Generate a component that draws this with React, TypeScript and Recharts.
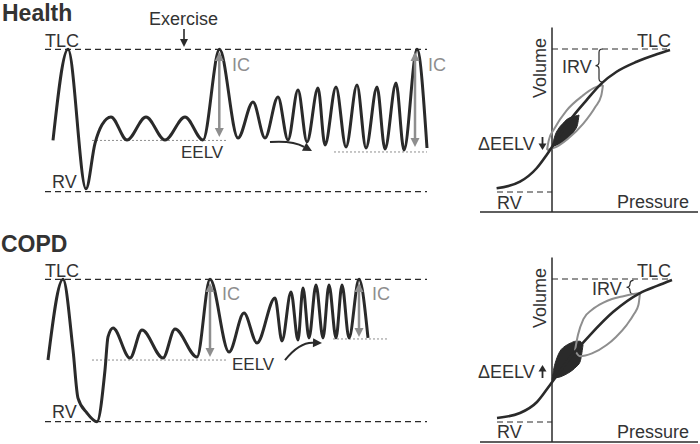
import React from "react";
import { ComposedChart, Line, Area, XAxis, YAxis, ReferenceLine } from "recharts";

// Volume is % of the RV..TLC range (RV = 0, TLC = 100); time in s, pressure in cmH2O.

// Health: volume-time trace
const healthT = [0.8, 2.3, 4.1, 5.0, 5.7, 6.6, 8.2, 10.1, 12.0, 14.0, 15.8, 17.45, 19.3, 20.8, 22.0, 23.3, 24.3, 25.3, 26.2, 27.3, 28.0, 29.1, 30.1, 31.2, 32.1, 33.2, 34.0, 35.1, 35.9, 37.2, 38.2];
const healthV = [36, 100, 2, 34, 47, 52.5, 36.3, 52.5, 36.3, 52.5, 36.3, 100, 37.7, 63, 37.7, 66.5, 36.3, 71.4, 34.9, 72.8, 32.8, 73.5, 31.4, 74.9, 30.7, 73.5, 30, 76.3, 29.3, 100, 30.7];

// COPD: volume-time trace
const copdT = [0.3, 1.8, 2.8, 3.3, 4.2, 5.2, 6.0, 6.3, 6.8, 8.5, 9.7, 11.8, 13.0, 15.2, 16.5, 18.4, 19.9, 21.2, 23.0, 23.7, 24.6, 25.3, 25.8, 26.4, 27.1, 27.8, 28.4, 29.1, 29.7, 30.4, 31.4, 32.3];
const copdV = [43.3, 100, 50.4, 16.6, 6.1, 0, 36.3, 59.5, 65.8, 44.7, 64.4, 44.7, 65.1, 45.4, 100, 48.9, 76.3, 55.3, 86.9, 56.7, 91.1, 57.4, 93.9, 58.8, 96, 58.8, 96, 58.8, 96, 58.8, 100, 58.8];

// EELV levels [tStart, tEnd, volume]
const healthEelv = [[4.7, 18.3, 36], [28.9, 38.2, 27.9]];
const copdEelv = [[4.7, 18.3, 43.3], [28.8, 34.3, 58.1]];
// IC arrows [t, top, bottom]
const healthIc = [[17.43, 98.1, 38.4], [37.0, 98.1, 31.4]];
const copdIc = [[16.5, 97.4, 45.4], [31.4, 97.4, 59.5]];

// Health: pressure-volume curve
const healthPvP = [-27.7, -16, -7.7, -2.7, 2.3, 9, 17.3, 24.8, 32.3, 42.3, 52.3, 59];
const healthPvV = [2.6, 7.2, 16.6, 25.9, 36.4, 50.3, 64.3, 76, 84.1, 91.1, 96.3, 99.3];
const healthLoopUpP = [-2.5, -1.6, 1.3, 7.35, 15.3, 20.8, 25.5];
const healthLoopUpV = [29.4, 36.2, 44.6, 57.1, 67.3, 72.6, 74.8];
const healthLoopLoP = [-2.5, 2.2, 7.7, 15.65, 21.7, 24.6, 25.5];
const healthLoopLoV = [29.4, 31.6, 36.9, 47.8, 59.6, 67.3, 74.8];
const healthLensP = [0, 1.5, 3.5, 5.5, 7.5, 9.5, 11.5, 12.75, 13.5];
const healthLensLo = [31.5, 32.4, 33.6, 35.0, 37.2, 39.6, 43.4, 47.1, 53.8];
const healthLensHi = [31.5, 39.5, 44.8, 48.0, 50.8, 52.3, 53.1, 53.5, 53.8];

// COPD: pressure-volume curve
const copdPvP = [-27.5, -16, -7.5, -1, 9, 19, 30.5, 44, 52.5, 60];
const copdPvV = [2.8, 6.3, 14, 25.9, 44.8, 60.8, 76.9, 90.2, 95.2, 99.3];
const copdLoopUpP = [11.5, 13, 15.7, 20, 25.7, 30, 35.7, 40, 44];
const copdLoopUpV = [50, 61, 72, 78.5, 83.5, 86, 88, 89.3, 90.2];
const copdLoopLoP = [11.5, 14, 20, 27.3, 32, 37.3, 41, 43.2, 44];
const copdLoopLoV = [50, 46, 48, 53.8, 59.5, 67.8, 75.5, 81.8, 90.2];
const copdLensP = [0, 1, 2, 4, 6.5, 9, 12, 14, 15.5];
const copdLensLo = [29.4, 30.3, 30.9, 31.5, 33, 35, 38.5, 42, 53.8];
const copdLensHi = [29.4, 38, 43, 49.5, 53, 55, 56.5, 56.5, 53.8];

const INK = "#2a2a2a";
const GREY = "#8e8e8e";
const FONT = "'Liberation Sans', Arial, Helvetica, sans-serif";

const pts = (xs: number[], ys: number[], k = "t") => xs.map((x, i) => ({ [k]: x, v: ys[i] }));
const range = (xs: number[], lo: number[], hi: number[]) => xs.map((p, i) => ({ p, r: [lo[i], hi[i]] }));

type ArrowOpts = { color: string; width: number; head: number; both?: boolean; bend?: number };
const arrow = (o: ArrowOpts) => (props: any) => {
  const { x1, y1, x2, y2 } = props;
  const bend = o.bend ?? 0;
  const cx = (x1 + x2) / 2 + (y2 - y1) * bend;
  const cy = (y1 + y2) / 2 - (x2 - x1) * bend;
  const headAt = (tx: number, ty: number, fx: number, fy: number) => {
    const dx = tx - fx, dy = ty - fy;
    const l = Math.hypot(dx, dy) || 1;
    const ux = dx / l, uy = dy / l;
    const bx = tx - ux * o.head, by = ty - uy * o.head;
    const hw = o.head * 0.5;
    return { bx, by, poly: `${tx},${ty} ${bx - uy * hw},${by + ux * hw} ${bx + uy * hw},${by - ux * hw}` };
  };
  const e = headAt(x2, y2, cx, cy);
  const s = o.both ? headAt(x1, y1, cx, cy) : null;
  const sx = s ? s.bx : x1, sy = s ? s.by : y1;
  const d = bend ? `M${sx},${sy} Q${cx},${cy} ${e.bx},${e.by}` : `M${sx},${sy} L${e.bx},${e.by}`;
  return (
    <g>
      <path d={d} fill="none" stroke={o.color} strokeWidth={o.width} />
      <polygon points={e.poly} fill={o.color} />
      {s && <polygon points={s.poly} fill={o.color} />}
    </g>
  );
};

const brace = (props: any) => {
  const { x1, y1, y2 } = props;
  const top = Math.min(y1, y2), bot = Math.max(y1, y2), mid = (top + bot) / 2;
  const x = x1, w = 3.5;
  const d = `M${x + w},${top} Q${x},${top} ${x},${top + w} L${x},${mid - w} Q${x},${mid} ${x - w},${mid} Q${x},${mid} ${x},${mid + w} L${x},${bot - w} Q${x},${bot} ${x + w},${bot}`;
  return <path d={d} fill="none" stroke={INK} strokeWidth={1.2} />;
};

const icArrow = arrow({ color: GREY, width: 2.5, head: 9, both: true });

type TraceProps = {
  top: number;
  t: number[];
  v: number[];
  eelv: number[][];
  ic: number[][];
  sweep: number[][];
  sweepBend: number;
  exercise?: boolean;
};

const TracePanel = ({ top, t, v, eelv, ic, sweep, sweepBend, exercise }: TraceProps) => (
  <div style={{ position: "absolute", left: 0, top, width: 440, height: 220 }}>
    <ComposedChart width={440} height={220} margin={{ top: 49.3, right: 13, bottom: 28.3, left: 45 }}>
      <XAxis dataKey="t" type="number" domain={[0, 38.2]} hide />
      <YAxis type="number" domain={[0, 100]} hide />
      <ReferenceLine y={100} stroke={INK} strokeWidth={1.3} strokeDasharray="6 4" />
      <ReferenceLine y={0} stroke={INK} strokeWidth={1.3} strokeDasharray="6 4" />
      {eelv.map(([a, b, y], i) => (
        <ReferenceLine key={i} segment={[{ x: a, y }, { x: b, y }]} stroke={GREY} strokeWidth={1} strokeDasharray="2 2" />
      ))}
      <Line data={pts(t, v)} dataKey="v" type="monotone" stroke={INK} strokeWidth={3} dot={false} isAnimationActive={false} />
      {ic.map(([x, a, b], i) => (
        <ReferenceLine key={i} segment={[{ x, y: b }, { x, y: a }]} shape={icArrow} />
      ))}
      {sweep.map(([a, ya, b, yb], i) => (
        <ReferenceLine key={i} segment={[{ x: a, y: ya }, { x: b, y: yb }]} shape={arrow({ color: INK, width: 2, head: 9, bend: sweepBend })} />
      ))}
      {exercise && (
        <ReferenceLine
          ifOverflow="visible"
          segment={[{ x: 13.9, y: 114.3 }, { x: 13.9, y: 101.6 }]}
          shape={arrow({ color: INK, width: 1.6, head: 8 })}
        />
      )}
    </ComposedChart>
  </div>
);

type PvProps = {
  top: number;
  curveP: number[];
  curveV: number[];
  upP: number[];
  upV: number[];
  loP: number[];
  loV: number[];
  lensP: number[];
  lensLo: number[];
  lensHi: number[];
  tlcEnd: number;
  braceP: number;
  braceV: number[];
};

const PvPanel = (o: PvProps) => (
  <div style={{ position: "absolute", left: 460, top: o.top, width: 240, height: 216 }}>
    <ComposedChart width={240} height={216} margin={{ top: 20, right: 0, bottom: 2, left: 16 }}>
      <XAxis dataKey="p" type="number" domain={[-38, 74]} hide />
      <YAxis type="number" domain={[-15.4, 120.3]} hide />
      <ReferenceLine segment={[{ x: 0, y: -14 }, { x: 0, y: 115 }]} stroke={INK} strokeWidth={1.5} />
      <ReferenceLine segment={[{ x: -36, y: -14 }, { x: 73, y: -14 }]} stroke={INK} strokeWidth={1.5} />
      <ReferenceLine segment={[{ x: -27.5, y: 0 }, { x: 0, y: 0 }]} stroke={INK} strokeWidth={1.2} strokeDasharray="6 4" />
      <ReferenceLine segment={[{ x: 0, y: 100 }, { x: o.tlcEnd, y: 100 }]} stroke={INK} strokeWidth={1.2} strokeDasharray="6 4" />
      <ReferenceLine segment={[{ x: o.braceP, y: o.braceV[0] }, { x: o.braceP, y: o.braceV[1] }]} shape={brace} />
      <Line data={pts(o.upP, o.upV, "p")} dataKey="v" type="monotone" stroke={GREY} strokeWidth={2} dot={false} isAnimationActive={false} />
      <Line data={pts(o.loP, o.loV, "p")} dataKey="v" type="monotone" stroke={GREY} strokeWidth={2} dot={false} isAnimationActive={false} />
      <Line data={pts(o.curveP, o.curveV, "p")} dataKey="v" type="monotone" stroke={INK} strokeWidth={2.6} dot={false} isAnimationActive={false} />
      <Area
        data={range(o.lensP, o.lensLo, o.lensHi)}
        dataKey="r"
        type="monotone"
        fill={INK}
        fillOpacity={1}
        stroke={INK}
        strokeWidth={1}
        dot={false}
        isAnimationActive={false}
      />
    </ComposedChart>
  </div>
);

const Labels = () => {
  const items: { x: number; y: number; s: string; size?: number; bold?: boolean; c?: string }[] = [
    { x: 2, y: 21, s: "Health", size: 23, bold: true },
    { x: 149, y: 25, s: "Exercise" },
    { x: 45, y: 47, s: "TLC" },
    { x: 52, y: 188, s: "RV" },
    { x: 181, y: 158, s: "EELV", size: 17 },
    { x: 232, y: 71, s: "IC", c: GREY },
    { x: 428, y: 71, s: "IC", c: GREY },
    { x: 637, y: 47, s: "TLC" },
    { x: 562, y: 73, s: "IRV" },
    { x: 478, y: 150, s: "ΔEELV" },
    { x: 497, y: 209, s: "RV" },
    { x: 617, y: 208, s: "Pressure" },
    { x: 1, y: 252, s: "COPD", size: 23, bold: true },
    { x: 45, y: 277, s: "TLC" },
    { x: 52, y: 418, s: "RV" },
    { x: 232, y: 370, s: "EELV", size: 17 },
    { x: 222, y: 300, s: "IC", c: GREY },
    { x: 372, y: 300, s: "IC", c: GREY },
    { x: 637, y: 277, s: "TLC" },
    { x: 592, y: 295, s: "IRV" },
    { x: 478, y: 378, s: "ΔEELV" },
    { x: 497, y: 438, s: "RV" },
    { x: 617, y: 438, s: "Pressure" },
  ];
  return (
    <svg width={700} height={444} style={{ position: "absolute", left: 0, top: 0, pointerEvents: "none" }}>
      {items.map((it, i) => (
        <text key={i} x={it.x} y={it.y} fontSize={it.size ?? 18} fontWeight={it.bold ? 700 : 400} fill={it.c ?? "#333"} fontFamily={FONT}>
          {it.s}
        </text>
      ))}
      <text transform="translate(546,68) rotate(-90)" textAnchor="middle" fontSize={18} fill="#333" fontFamily={FONT}>Volume</text>
      <text transform="translate(546,298) rotate(-90)" textAnchor="middle" fontSize={18} fill="#333" fontFamily={FONT}>Volume</text>
      <path d="M542.5,137 L542.5,145" stroke={INK} strokeWidth={1.8} />
      <polygon points="538.5,143.5 546.5,143.5 542.5,150" fill={INK} />
      <path d="M542.5,378 L542.5,370" stroke={INK} strokeWidth={1.8} />
      <polygon points="538.5,371.5 546.5,371.5 542.5,365" fill={INK} />
    </svg>
  );
};

export default function App() {
  return (
    <div style={{ position: "absolute", left: 0, top: 0, width: 700, height: 444, background: "#fff", overflow: "hidden", fontFamily: FONT }}>
      <TracePanel top={0} t={healthT} v={healthV} eelv={healthEelv} ic={healthIc} sweep={[[22.5, 34.9, 26.7, 28.5]]} sweepBend={0.15} exercise />
      <TracePanel top={230} t={copdT} v={copdV} eelv={copdEelv} ic={copdIc} sweep={[[24.0, 43.3, 27.7, 55.3]]} sweepBend={0.25} />
      <PvPanel
        top={0}
        curveP={healthPvP}
        curveV={healthPvV}
        upP={healthLoopUpP}
        upV={healthLoopUpV}
        loP={healthLoopLoP}
        loV={healthLoopLoV}
        lensP={healthLensP}
        lensLo={healthLensLo}
        lensHi={healthLensHi}
        tlcEnd={57.5}
        braceP={23.5}
        braceV={[100, 76.9]}
      />
      <PvPanel
        top={230}
        curveP={copdPvP}
        curveV={copdPvV}
        upP={copdLoopUpP}
        upV={copdLoopUpV}
        loP={copdLoopLoP}
        loV={copdLoopLoV}
        lensP={copdLensP}
        lensLo={copdLensLo}
        lensHi={copdLensHi}
        tlcEnd={59}
        braceP={39}
        braceV={[99, 89.5]}
      />
      <Labels />
    </div>
  );
}
